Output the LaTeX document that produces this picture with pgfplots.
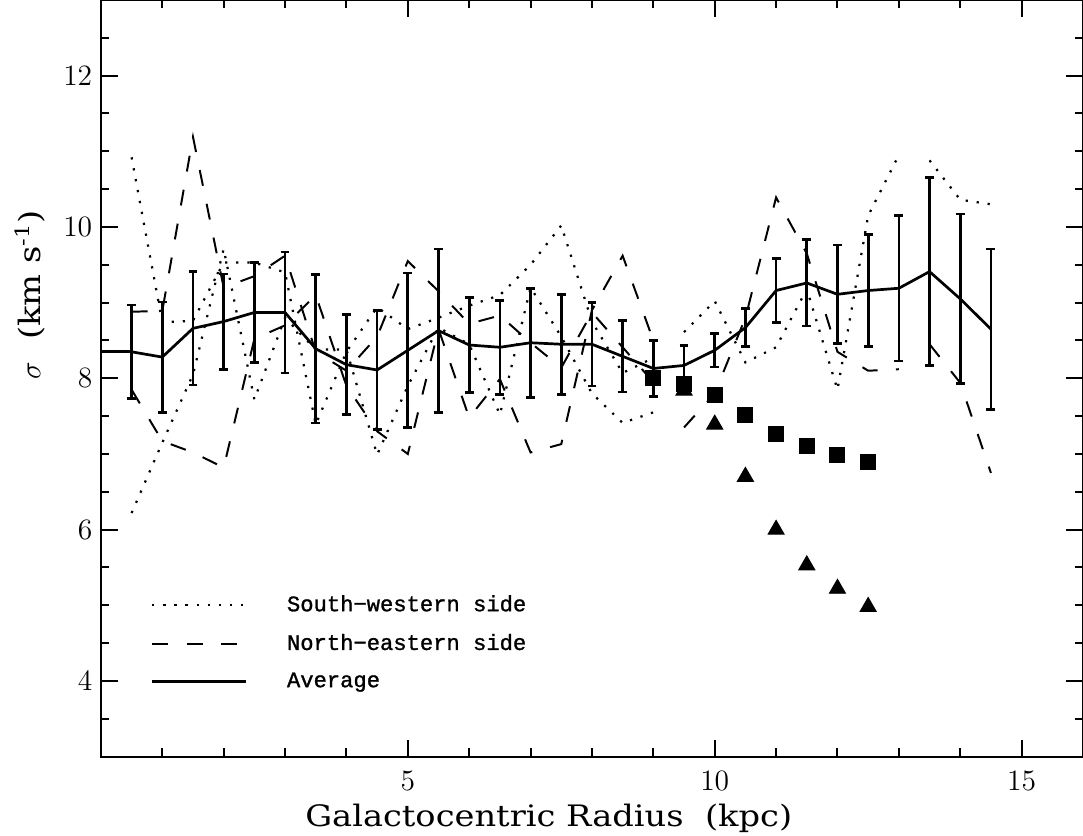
\documentclass[border=0pt]{standalone}
\usepackage{fontspec}
\usepackage{pgfplots}
\pgfplotsset{compat=1.18}
\setmainfont[FakeStretch=1.14]{DejaVu Serif}
\newfontfamily\legfont[FakeBold=1.2]{Liberation Mono}

% average dispersion with error bars
\pgfplotstableread{
x y err
0.5 8.35 0.62
1.0 8.28 0.73
1.5 8.66 0.75
2.0 8.75 0.63
2.5 8.87 0.66
3.0 8.87 0.80
3.5 8.39 0.98
4.0 8.18 0.66
4.5 8.11 0.79
5.0 8.37 1.02
5.5 8.63 1.08
6.0 8.44 0.63
6.5 8.41 0.62
7.0 8.47 0.72
7.5 8.45 0.66
8.0 8.45 0.55
8.5 8.29 0.47
9.0 8.13 0.37
9.5 8.17 0.26
10.0 8.37 0.22
10.5 8.67 0.25
11.0 9.16 0.42
11.5 9.26 0.57
12.0 9.11 0.65
12.5 9.16 0.74
13.0 9.19 0.96
13.5 9.41 1.24
14.0 9.05 1.12
14.5 8.65 1.06
}\avgtable

\begin{document}
\begin{tikzpicture}
\begin{axis}[
  scale only axis,
  width=399pt, height=307.4pt,
  xmin=0, xmax=16, ymin=3, ymax=13,
  xtick={5,10,15},
  minor xtick={1,2,3,4,6,7,8,9,11,12,13,14},
  ytick={4,6,8,10,12},
  minor ytick={3.5,4.5,5,5.5,6.5,7,7.5,8.5,9,9.5,10.5,11,11.5,12.5},
  tick align=inside,
  major tick length=6.9pt, minor tick length=3.3pt,
  every tick/.style={black, line width=0.8pt},
  axis line style={line width=0.8pt},
  tick label style={font=\fontsize{12}{14}\selectfont},
  xticklabel style={yshift=-2.5pt},
  xlabel={Galactocentric Radius\ \ (kpc)},
  ylabel={$\sigma$\hspace{9pt}(km s\textsuperscript{-1})},
  label style={font=\fontsize{12}{14}\selectfont},
  xlabel style={at={(axis description cs:0.456,-0.0814)}, anchor=center},
  ylabel style={at={(axis description cs:-0.0722,0.487)}, anchor=west},
  unbounded coords=jump,
  legend style={draw=none, fill=none, at={(axis cs:0.686,5.27)}, anchor=north west,
    font=\legfont\fontsize{9}{10}\selectfont, row sep=3.7pt, column sep=14pt},
  legend cell align=left,
  legend image code/.code={\draw[#1] (0pt,0pt) -- (38.2pt,0pt);},
]
% south-western side (dotted)
\addplot[black, line width=0.9pt, dash pattern=on 0.9pt off 3.6pt] coordinates {
(0.5,10.92) (1.0,8.74) (1.5,8.76) (2.0,9.53) (2.5,9.53) (3.0,9.40) (3.5,7.39)
(4.0,8.35) (4.5,8.94) (5.0,8.65) (5.5,8.80) (6.0,8.96) (6.5,9.10) (7.0,9.50)
(7.5,10.02) (8.0,8.75) (8.5,8.07) (9.0,8.27)};
\addlegendentry{South−western side}
\addplot[black, line width=0.9pt, dash pattern=on 0.9pt off 3.6pt, forget plot] coordinates {
(0.5,6.22) (1.0,7.15) (1.5,8.05) (2.0,9.71) (2.5,7.72) (3.0,8.80) (3.5,8.38)
(4.0,8.38) (4.5,6.99) (5.0,7.90) (5.5,8.67) (6.0,8.45) (6.5,7.52) (7.0,9.20)
(7.5,8.55) (8.0,7.80) (8.5,7.41) (9.0,7.55)};
\addplot[black, line width=0.9pt, dash pattern=on 0.9pt off 3.6pt, forget plot] coordinates {
(9.5,8.61) (10.0,9.02) (10.5,8.21) (11.0,8.41) (11.5,9.18) (12.0,7.85)
(12.5,10.15) (13.0,10.95) (13.25,nan) (13.5,10.88) (14.0,10.36) (14.5,10.30)};
% north-eastern side (dashed)
\addplot[black, line width=0.8pt, dash pattern=on 6.5pt off 7.5pt] coordinates {
(0.5,8.88) (1.0,8.89) (1.5,11.19) (2.0,9.20) (2.5,9.35) (3.0,9.62) (3.5,8.35)
(4.0,8.10) (4.5,8.55) (5.0,9.55) (5.5,9.15) (6.0,8.72) (6.5,8.83) (7.0,8.47)
(7.5,8.14) (8.0,8.87) (8.5,8.41) (9.0,7.95)};
\addlegendentry{North−eastern side}
\addplot[black, line width=0.8pt, dash pattern=on 6.5pt off 7.5pt, forget plot] coordinates {
(0.5,7.85) (1.0,7.17) (1.5,7.02) (2.0,6.82) (2.5,8.52) (3.0,8.70) (3.5,9.10)
(4.0,7.90) (4.5,7.30) (5.0,7.00) (5.5,8.65) (6.0,7.48) (6.5,7.99) (7.0,7.02)
(7.5,7.13) (8.0,8.90) (8.5,9.62) (9.0,8.50)};
\addplot[black, line width=0.8pt, dash pattern=on 6.5pt off 7.5pt, forget plot] coordinates {
(9.5,7.35) (10.0,7.80) (10.5,8.80) (11.0,10.39) (11.5,9.65) (12.0,8.35)
(12.5,8.10) (13.0,8.12) (13.25,nan) (13.5,8.45) (14.0,7.94) (14.5,6.75)};
% average
\addplot[black, line width=1.1pt, forget plot] coordinates {(0,8.35) (0.5,8.35)};
\addplot[black, line width=1.1pt, line join=round, mark=none,
  error bars/.cd, y dir=both, y explicit,
  error bar style={line width=1.1pt},
  error mark options={rotate=90, mark size=1.8pt, line width=1.1pt}]
  table[x=x, y=y, y error=err] {\avgtable};
\addlegendentry{Average}
% squares and triangles
\addplot[only marks, mark=square*, mark size=3.05pt, black, forget plot] coordinates {
(9.0,8.00) (9.5,7.93) (10.0,7.78) (10.5,7.52) (11.0,7.27) (11.5,7.11) (12.0,6.98) (12.5,6.90)};
\addplot[only marks, mark=triangle*, mark size=3.75pt, black, forget plot] coordinates {
(9.5,7.84) (10.0,7.39) (10.5,6.70) (11.0,6.00) (11.5,5.53) (12.0,5.22) (12.5,4.98)};
\end{axis}
\pgfresetboundingbox
\path[use as bounding box] ([xshift=-41pt,yshift=-31.9pt]current axis.south west) rectangle (current axis.north east);
\end{tikzpicture}
\end{document}
